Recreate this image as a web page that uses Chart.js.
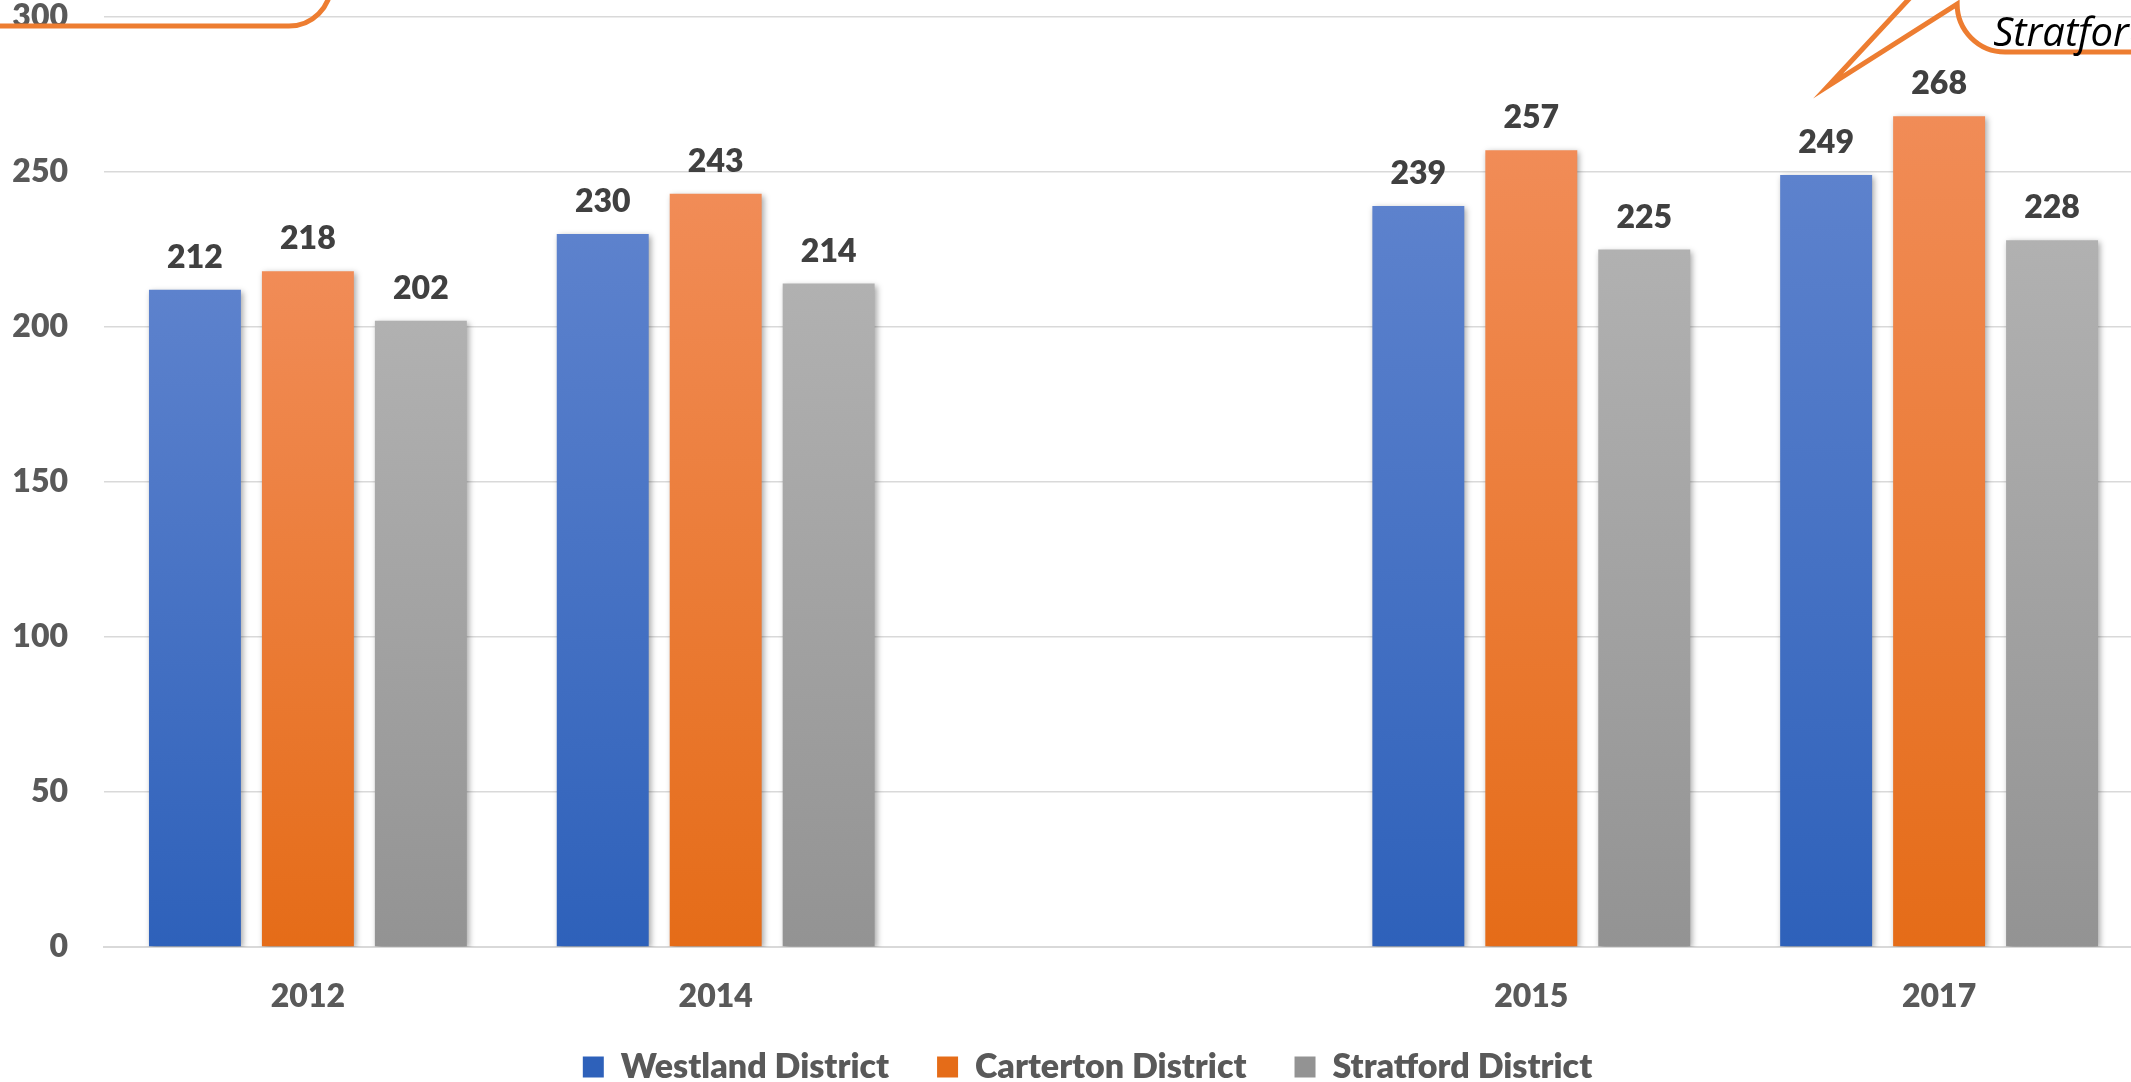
<!DOCTYPE html>
<html><head><meta charset="utf-8">
<script src="https://cdn.jsdelivr.net/npm/chart.js@4.4.1/dist/chart.umd.min.js"></script>
<style>
html,body{margin:0;padding:0;background:#fff;overflow:hidden;width:2131px;height:1082px;position:relative}
canvas{position:absolute;left:0;top:-35px}
</style></head>
<body><canvas id="c" width="2160" height="1144"></canvas>
<script>
// ---- data ----
const categories = ['2012', '2014', '', '2015', '2017'];
const westland  = [212, 230, null, 239, 249];
const carterton = [218, 243, null, 257, 268];
const stratford = [202, 214, null, 225, 228];
const seriesNames = ['Westland District', 'Carterton District', 'Stratford District'];
const yTickValues = [0, 50, 100, 150, 200, 250, 300];
const calloutText = 'Stratford District';

// ---- styles ----
const FONT = 'Lato';
const WEIGHT = '800';
const palette = [
  {top: '#5D82CD', bottom: '#2E61BA', solid: '#4472C4'},
  {top: '#F18C57', bottom: '#E56C18', solid: '#ED7D31'},
  {top: '#B1B1B1', bottom: '#939393', solid: '#A5A5A5'}
];

function gradientFill(p) {
  return (ctx) => {
    if (ctx.type !== 'data') return p.solid;
    const chart = ctx.chart;
    if (!chart.chartArea) return p.solid;
    const v = ctx.parsed ? ctx.parsed.y : null;
    if (v === null || v === undefined) return p.solid;
    const ys = chart.scales.y;
    const y0 = ys.getPixelForValue(v), y1 = ys.getPixelForValue(0);
    const g = chart.ctx.createLinearGradient(0, y0, 0, y1);
    g.addColorStop(0, p.top);
    g.addColorStop(1, p.bottom);
    return g;
  };
}

const barDecor = {
  id: 'barDecor',
  beforeDatasetsDraw(chart) {
    const c = chart.ctx;
    c.save();
    c.shadowColor = 'rgba(0,0,0,0.35)';
    c.shadowBlur = 6;
    c.shadowOffsetX = 2;
    c.shadowOffsetY = 2;
  },
  afterDatasetsDraw(chart) {
    const c = chart.ctx;
    c.restore();
    c.save();
    c.font = WEIGHT + ' 32px ' + FONT;
    c.fillStyle = '#404040';
    c.textAlign = 'center';
    c.textBaseline = 'alphabetic';
    chart.data.datasets.forEach((ds, di) => {
      const meta = chart.getDatasetMeta(di);
      meta.data.forEach((el, i) => {
        const v = ds.data[i];
        if (v === null || v === undefined) return;
        c.fillText(String(v), el.x, el.y - 22);
      });
    });
    c.restore();
  }
};

// moves the legend so it sits where the reference puts it
const legendShift = {
  id: 'legendShift',
  afterLayout(chart) {
    const lg = chart.legend;
    if (!lg) return;
    lg.top -= 15; lg.bottom -= 15;
    lg.left += 10; lg.right += 10;
  }
};

const callouts = {
  id: 'callouts',
  afterDraw(chart) {
    const c = chart.ctx;
    const off = 35; // canvas is shifted up by 35px on the page
    c.save();
    c.strokeStyle = '#ED7D31';
    c.lineWidth = 5;
    c.lineJoin = 'miter';
    // top-left callout (bottom edge + rounded corner)
    c.beginPath();
    c.moveTo(-20, 26 + off);
    c.lineTo(289, 26 + off);
    c.arc(289, -16 + off, 42, Math.PI / 2, 0, true);
    c.stroke();
    // top-right wedge callout pointing at the 2017 Westland bar
    const el = chart.getDatasetMeta(0).data[4];
    const bx = el.x - 11, by = el.y - 78;
    c.beginPath();
    c.moveTo(bx + 142, by - 150);
    c.lineTo(bx + 13, by - 11);
    c.lineTo(bx + 142, by - 93);
    c.arc(bx + 190, by - 93, 48, Math.PI, Math.PI / 2, true);
    c.lineTo(bx + 400, by - 45);
    c.stroke();
    c.fillStyle = '#000000';
    c.font = 'italic 40px "Open Sans"';
    c.textAlign = 'left';
    c.textBaseline = 'alphabetic';
    c.fillText(calloutText, bx + 178, by - 51);
    c.restore();
  }
};

function draw() {
  new Chart(document.getElementById('c'), {
    type: 'bar',
    data: {
      labels: categories,
      datasets: [
        {label: seriesNames[0], data: westland,  backgroundColor: gradientFill(palette[0])},
        {label: seriesNames[1], data: carterton, backgroundColor: gradientFill(palette[1])},
        {label: seriesNames[2], data: stratford, backgroundColor: gradientFill(palette[2])}
      ]
    },
    options: {
      responsive: false,
      animation: false,
      devicePixelRatio: 1,
      layout: {padding: {left: 12, right: 17, top: 0, bottom: 0}},
      datasets: {bar: {categoryPercentage: 0.831, barPercentage: 0.814, borderWidth: 0}},
      scales: {
        x: {
          grid: {display: false, drawTicks: false},
          border: {display: true, color: '#D9D9D9', width: 2},
          ticks: {color: '#595959', font: {family: FONT, size: 32, weight: WEIGHT}, padding: 30, maxRotation: 0, autoSkip: false},
          afterFit: (scale) => { scale.height = 70; }
        },
        y: {
          min: 0, max: 300,
          afterBuildTicks: (scale) => { scale.ticks = yTickValues.map(v => ({value: v})); },
          afterFit: (scale) => { scale.width = 92; },
          grid: {color: '#D9D9D9', lineWidth: 1.5, drawTicks: false},
          border: {display: false},
          ticks: {color: '#595959', font: {family: FONT, size: 32, weight: WEIGHT, lineHeight: 1}, padding: 36}
        }
      },
      plugins: {
        legend: {
          position: 'bottom',
          labels: {
            color: '#595959',
            font: {family: FONT, size: 34, weight: WEIGHT},
            boxWidth: 21, boxHeight: 21, padding: 48
          }
        },
        tooltip: {enabled: false}
      }
    },
    plugins: [barDecor, legendShift, callouts]
  });
}

Promise.all([
  document.fonts.load(WEIGHT + ' 32px ' + FONT),
  document.fonts.load(WEIGHT + ' 34px ' + FONT),
  document.fonts.load('italic 40px "Open Sans"')
]).then(draw, draw);
</script>
</body></html>
